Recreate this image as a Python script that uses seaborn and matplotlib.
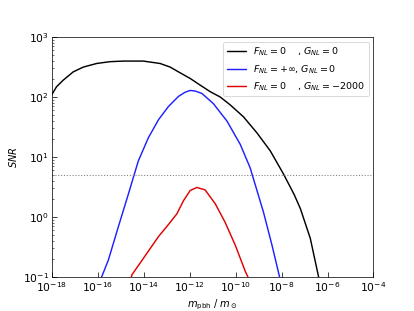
import numpy as np
import pandas as pd
import matplotlib
matplotlib.use("Agg")
import matplotlib.pyplot as plt
import seaborn as sns

# -----------------------------
# DATA (log10 of mass, log10 of SNR)
# -----------------------------

logm_black = [-18.0, -17.8, -17.51, -17.07, -16.63, -16.05, -15.47, -14.89, -14.02,
              -13.29, -12.85, -12.49, -11.98, -11.55, -11.11, -10.67, -10.24, -9.66,
              -9.07, -8.49, -7.91, -7.45, -7.18, -6.75, -6.39, -6.3]
snr_black_log = [2.04, 2.17, 2.28, 2.42, 2.50, 2.56, 2.59, 2.60, 2.60,
                 2.56, 2.50, 2.42, 2.31, 2.20, 2.09, 2.00, 1.87, 1.67,
                 1.40, 1.10, 0.71, 0.37, 0.135, -0.36, -1.0, -1.15]

logm_blue = [-15.9, -15.83, -15.54, -15.11, -14.67, -14.24, -13.80, -13.36, -12.93,
             -12.49, -12.20, -11.98, -11.76, -11.47, -10.97, -10.38, -9.80, -9.37,
             -8.79, -8.42, -8.09, -8.0]
snr_blue_log = [-1.12, -1.0, -0.72, -0.17, 0.38, 0.93, 1.32, 1.62, 1.84,
                2.01, 2.08, 2.11, 2.10, 2.06, 1.89, 1.60, 1.21, 0.82,
                0.08, -0.47, -1.0, -1.15]

logm_red = [-14.6, -14.52, -13.94, -13.36, -12.93, -12.56, -12.27, -11.98, -11.69,
            -11.33, -10.89, -10.46, -10.02, -9.58, -9.47, -9.4]
snr_red_log = [-1.1, -0.97, -0.65, -0.33, -0.13, 0.05, 0.27, 0.44, 0.49,
               0.45, 0.22, -0.09, -0.47, -0.91, -1.0, -1.1]

labels = [r"$F_{NL}=0$    , $G_{NL}=0$",
          r"$F_{NL}=+\infty$, $G_{NL}=0$",
          r"$F_{NL}=0$    , $G_{NL}=-2000$"]
colors = ["black", "#1f1fff", "#e00000"]

snr_threshold = 5

# -----------------------------
# PLOT
# -----------------------------

sns.set_style("ticks", {"xtick.direction": "in", "ytick.direction": "in",
                        "axes.edgecolor": "black", "xtick.color": "black",
                        "ytick.color": "black", "text.color": "black",
                        "axes.labelcolor": "black"})
plt.rcParams['font.family'] = ['DejaVu Sans']

fig, ax = plt.subplots(figsize=(6.4, 4.8), dpi=64.84)

curves = [(logm_black, snr_black_log), (logm_blue, snr_blue_log), (logm_red, snr_red_log)]
for (lm, ls), lab, col in zip(curves, labels, colors):
    df = pd.DataFrame({"m": 10.0 ** np.array(lm), "snr": 10.0 ** np.array(ls)})
    sns.lineplot(x="m", y="snr", data=df, color=col, label=lab, lw=1.6, ax=ax)

ax.axhline(snr_threshold, color="gray", ls=":", lw=1.2)

ax.set_xscale("log")
ax.set_yscale("log")
ax.set_xlim(1e-18, 1e-4)
ax.set_ylim(1e-1, 1e3)
ax.set_xticks([10.0 ** k for k in range(-18, -3, 2)])
ax.xaxis.set_minor_locator(matplotlib.ticker.NullLocator())

ax.tick_params(which="both", direction="in", labelsize=12)
ax.tick_params(which="major", length=5)
ax.tick_params(which="minor", length=2.5)

ax.set_xlabel(r"$m_{\rm pbh}\ /\ m_\odot$", fontsize=11)
ax.set_ylabel(r"$SNR$", fontsize=11)

ax.legend(loc="upper right", fontsize=10.5, frameon=True)

plt.savefig("out.png", dpi=64.84)
